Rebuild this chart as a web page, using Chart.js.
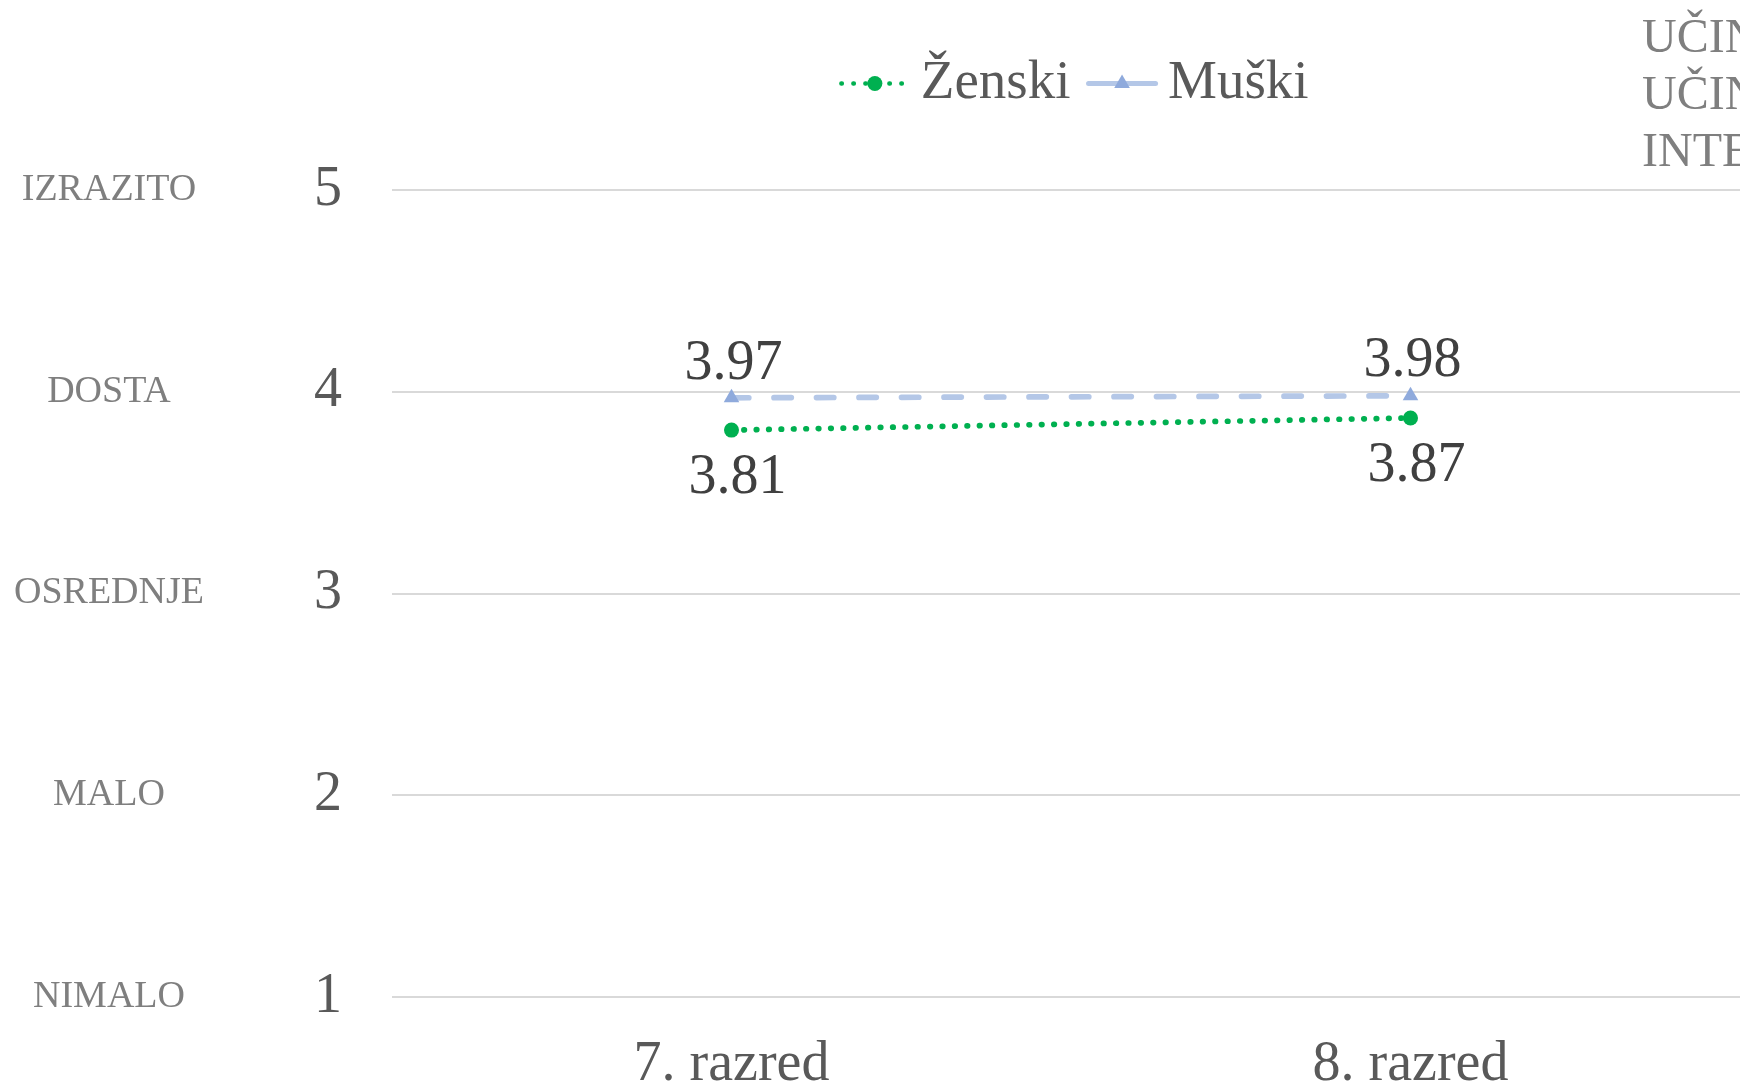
<!DOCTYPE html>
<html>
<head>
<meta charset="utf-8">
<script src="https://cdn.jsdelivr.net/npm/chart.js@4.4.1/dist/chart.umd.min.js"></script>
<style>
  html, body { margin: 0; padding: 0; background: #fff; overflow: hidden; }
  #wrap { position: relative; width: 1740px; height: 1087px; overflow: hidden; }
  #chart { position: absolute; left: 0; top: 0; }
  #note { position: absolute; left: 1642px; top: 7px; font: 48px/57px "Liberation Serif", serif; color: #7f7f7f; white-space: nowrap; }
</style>
</head>
<body>
<div id="wrap">
  <canvas id="chart" width="2150" height="1087"></canvas>
  <div id="note"></div>
</div>
<script>
// data
const grades = ['7. razred', '8. razred'];
const zenski = [3.81, 3.87];
const muski = [3.97, 3.98];
const scaleLabels = ['NIMALO', 'MALO', 'OSREDNJE', 'DOSTA', 'IZRAZITO'];
const noteLines = ['UČIN', 'UČIN', 'INTE'];

document.getElementById('note').innerHTML = noteLines.join('<br>');

Chart.defaults.font.family = '"Liberation Serif", serif';

// extra room under the legend, like the original
const legendSpace = {
  id: 'legendSpace',
  beforeInit(chart) {
    const fit = chart.legend.fit;
    chart.legend.fit = function () {
      fit.call(this);
      this.height = 152;
    };
  },
};

// legend lines with a marker in the middle
const legendGlyphs = {
  id: 'legendGlyphs',
  afterDraw(chart, args, opts) {
    const lg = chart.legend;
    const ctx = chart.ctx;
    lg.legendItems.forEach(function (item, i) {
      const box = lg.legendHitBoxes[i];
      const s = opts.styles[item.datasetIndex];
      const y = box.top + box.height / 2;
      const x0 = box.left;
      const x1 = box.left + opts.lineLength;
      const cx = (x0 + x1) / 2;
      ctx.save();
      ctx.strokeStyle = s.lineColor;
      ctx.lineWidth = s.lineWidth;
      ctx.lineCap = 'round';
      ctx.setLineDash(s.dash);
      ctx.beginPath();
      ctx.moveTo(x0, y);
      ctx.lineTo(x1, y);
      ctx.stroke();
      ctx.setLineDash([]);
      ctx.fillStyle = s.markerColor;
      ctx.beginPath();
      if (s.marker === 'circle') {
        ctx.arc(cx, y, s.radius, 0, Math.PI * 2);
      } else {
        ctx.moveTo(cx, y - s.radius);
        ctx.lineTo(cx + s.radius * 0.87, y + s.radius * 0.5);
        ctx.lineTo(cx - s.radius * 0.87, y + s.radius * 0.5);
        ctx.closePath();
      }
      ctx.fill();
      ctx.restore();
    });
  },
};

// value labels next to the points
const valueLabels = {
  id: 'valueLabels',
  afterDatasetsDraw(chart, args, opts) {
    const ctx = chart.ctx;
    ctx.save();
    ctx.font = opts.font;
    ctx.fillStyle = opts.color;
    ctx.textAlign = 'center';
    ctx.textBaseline = 'middle';
    chart.data.datasets.forEach(function (ds, i) {
      chart.getDatasetMeta(i).data.forEach(function (pt, j) {
        ctx.fillText(ds.data[j].toFixed(2), pt.x + opts.shiftX[i], pt.y + opts.shiftY[i]);
      });
    });
    ctx.restore();
  },
};

new Chart(document.getElementById('chart'), {
  type: 'line',
  data: {
    labels: grades,
    datasets: [
      {
        label: 'Ženski',
        data: zenski,
        borderColor: '#00b050',
        backgroundColor: '#00b050',
        borderWidth: 5.7,
        borderDash: [0.5, 11.9],
        borderCapStyle: 'round',
        pointStyle: 'circle',
        pointRadius: 7.5,
        pointBackgroundColor: '#00b050',
        pointBorderWidth: 0,
        tension: 0,
      },
      {
        label: 'Muški',
        data: muski,
        borderColor: '#b4c7e7',
        backgroundColor: '#b4c7e7',
        borderWidth: 5.7,
        borderDash: [17.3, 25.2],
        borderCapStyle: 'round',
        pointStyle: 'triangle',
        pointRadius: 9,
        pointBackgroundColor: '#8faadc',
        pointBorderColor: '#8faadc',
        pointBorderWidth: 0,
        tension: 0,
      },
    ],
  },
  options: {
    responsive: false,
    animation: false,
    events: [],
    layout: { padding: { top: 38, left: 0, right: 0, bottom: 0 } },
    plugins: {
      tooltip: { enabled: false },
      legend: {
        position: 'top',
        labels: {
          usePointStyle: true,
          pointStyleWidth: 52,
          padding: 18,
          color: '#595959',
          font: { size: 55 },
          generateLabels: function (chart) {
            const items = Chart.defaults.plugins.legend.labels.generateLabels(chart);
            items.forEach(function (it) {
              it.pointStyle = 'line';
              it.lineWidth = 0;
            });
            return items;
          },
        },
      },
      legendGlyphs: {
        lineLength: 67,
        styles: [
          { lineColor: '#00b050', lineWidth: 4.5, dash: [0.5, 11.5], marker: 'circle', radius: 7.5, markerColor: '#00b050' },
          { lineColor: '#b4c7e7', lineWidth: 5, dash: [], marker: 'triangle', radius: 9, markerColor: '#8faadc' },
        ],
      },
      valueLabels: {
        font: '56px "Liberation Serif", serif',
        color: '#404040',
        shiftX: [6, 2],
        shiftY: [48, -34],
      },
    },
    scales: {
      x: {
        type: 'category',
        offset: true,
        grid: { display: false, drawTicks: false },
        border: { display: false },
        ticks: { color: '#595959', font: { size: 56 }, padding: 35 },
        afterFit: function (s) { s.height = 90; },
      },
      y: {
        position: 'left',
        weight: 0,
        min: 1,
        max: 5,
        grid: { color: '#d9d9d9', lineWidth: 2, drawTicks: false },
        border: { display: false },
        ticks: { stepSize: 1, color: '#595959', font: { size: 56 }, padding: 50 },
        afterFit: function (s) { s.width = 174; },
      },
      cat: {
        type: 'linear',
        position: 'left',
        weight: 1,
        min: 1,
        max: 5,
        grid: { display: false, drawTicks: false },
        border: { display: false },
        ticks: {
          stepSize: 1,
          color: '#7f7f7f',
          font: { size: 38 },
          crossAlign: 'center',
          padding: 14,
          callback: function (v) { return scaleLabels[v - 1]; },
        },
        afterFit: function (s) { s.width = 218; },
      },
      side: {
        type: 'linear',
        position: 'right',
        grid: { display: false, drawTicks: false },
        border: { display: false },
        ticks: { display: false },
        afterFit: function (s) { s.width = 400; },
      },
    },
  },
  plugins: [legendSpace, legendGlyphs, valueLabels],
});
</script>
</body>
</html>
